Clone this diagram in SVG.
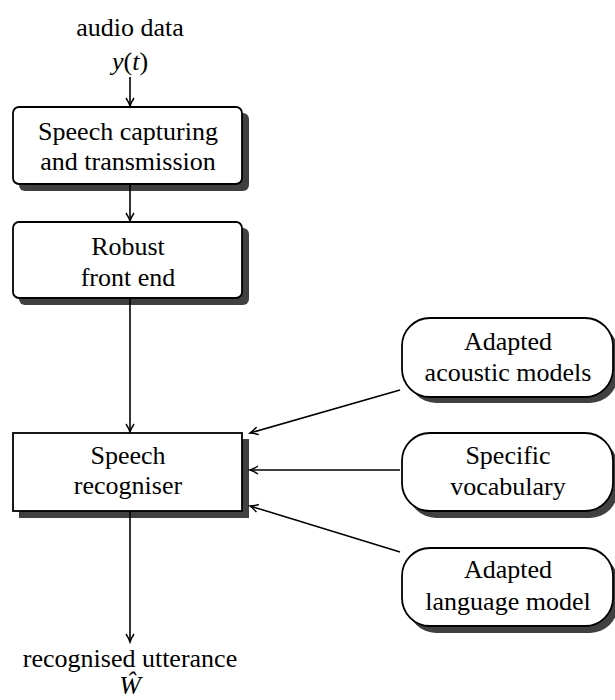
<svg xmlns="http://www.w3.org/2000/svg" width="615" height="700" viewBox="0 0 615 700">
<defs>
<style>
text{font-family:'Liberation Serif','Times New Roman',Times,serif;font-size:26px;fill:#000;text-anchor:middle}
.it{font-style:italic}
.box{fill:#fff;stroke:#000;stroke-width:1.8}
.sh{fill:#404040;stroke:none}
.c{fill:none;stroke:#000;stroke-width:1.6}
</style>
<marker id="ah" viewBox="-10 -6 12 12" refX="0" refY="0" markerWidth="12" markerHeight="12" markerUnits="userSpaceOnUse" orient="auto">
<path d="M-8,-4 Q-3,-0.8 0,0 Q-3,0.8 -8,4" fill="none" stroke="#000" stroke-width="1.4"/>
</marker>
</defs>
<rect width="615" height="700" fill="#fff"/>
<g id="input" font-family="Liberation Serif, serif">
<text x="130" y="36">audio data</text>
<text x="130" y="70"><tspan class="it">y</tspan>(<tspan class="it">t</tspan>)</text>
</g>
<g id="capture">
<rect class="sh" x="19" y="113" width="230" height="78" rx="6"/>
<rect class="box" x="13" y="107" width="229" height="77" rx="6"/>
<text x="128" y="140">Speech capturing</text>
<text x="128" y="170">and transmission</text>
</g>
<g id="frontend">
<rect class="sh" x="19" y="228" width="230" height="77" rx="6"/>
<rect class="box" x="13" y="222" width="229" height="76" rx="6"/>
<text x="128" y="255">Robust</text>
<text x="128" y="286">front end</text>
</g>
<g id="recogniser">
<rect class="sh" x="19" y="439" width="230" height="79"/>
<rect class="box" x="13" y="433" width="229" height="78"/>
<text x="128" y="464">Speech</text>
<text x="128" y="494">recogniser</text>
</g>
<g id="acoustic">
<rect class="sh" x="408" y="324" width="210" height="79" rx="28"/>
<rect class="box" x="402" y="318" width="211" height="79" rx="28"/>
<text x="508" y="350">Adapted</text>
<text x="508" y="381">acoustic models</text>
</g>
<g id="vocab">
<rect class="sh" x="408" y="439" width="210" height="79" rx="28"/>
<rect class="box" x="402" y="433" width="211" height="78" rx="28"/>
<text x="508" y="464">Specific</text>
<text x="508" y="495">vocabulary</text>
</g>
<g id="langmodel">
<rect class="sh" x="408" y="554" width="210" height="79" rx="28"/>
<rect class="box" x="402" y="548" width="211" height="78" rx="28"/>
<text x="508" y="578">Adapted</text>
<text x="508" y="610">language model</text>
</g>
<g id="output">
<text x="130" y="667">recognised utterance</text>
<text x="130" y="694" class="it">Ŵ</text>
</g>
<g id="connectors">
<line class="c" x1="130" y1="77" x2="130" y2="106" marker-end="url(#ah)"/>
<line class="c" x1="130" y1="184" x2="130" y2="221" marker-end="url(#ah)"/>
<line class="c" x1="130" y1="298" x2="130" y2="432" marker-end="url(#ah)"/>
<line class="c" x1="130" y1="511" x2="130" y2="642" marker-end="url(#ah)"/>
<line class="c" x1="400" y1="390" x2="250" y2="433" marker-end="url(#ah)"/>
<line class="c" x1="400" y1="470" x2="250" y2="470" marker-end="url(#ah)"/>
<line class="c" x1="400" y1="552" x2="250" y2="506" marker-end="url(#ah)"/>
</g>
</svg>
